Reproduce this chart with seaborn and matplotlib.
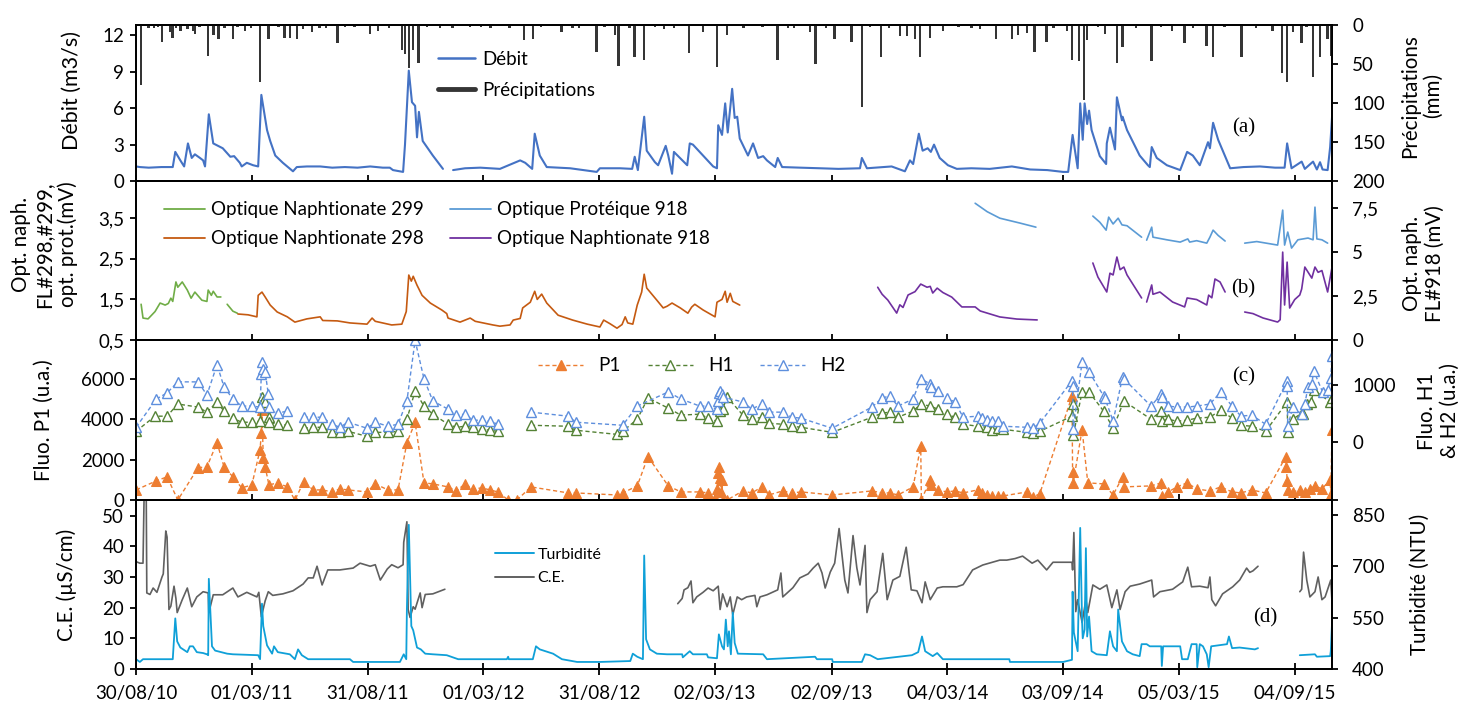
import numpy as np
import pandas as pd
import seaborn as sns
import matplotlib.pyplot as plt
from matplotlib.lines import Line2D

nan = np.nan
DEBUT = pd.Timestamp("2010-08-30")   # jour 0 des séries

# ---------- (a) précipitations (mm) ----------
pluie_jours = [
    8, 20, 41, 54, 58, 70, 81, 90, 93, 114,
    122, 130, 153, 172, 196, 209, 235, 243, 254, 264,
    278, 300, 318, 345, 370, 382, 400, 420, 425, 431,
    438, 446, 480, 528, 560, 613, 627, 672, 700, 728,
    757, 762, 788, 803, 834, 874, 896, 918, 934, 960,
    1014, 1040, 1065, 1074, 1104, 1131, 1147, 1177, 1207, 1218,
    1231, 1239, 1255, 1275, 1334, 1359, 1384, 1394, 1408, 1420,
    1439, 1471, 1479, 1490, 1498, 1503, 1531, 1550, 1559, 1605,
    1637, 1657, 1692, 1702, 1747, 1796, 1811, 1819, 1828, 1842,
    1860, 1871, 1883, 1889,
    28, 35, 63, 100, 140, 160, 182, 225, 290, 330,
    460, 500, 545, 590, 640, 690, 740, 780, 820, 850,
    990, 1030, 1090, 1160, 1190, 1300, 1320, 1450, 1520, 1580,
    1620, 1670, 1720, 1770, 1850]
pluie_mm = [
    77, 4, 22, 10, 17, 8, 6, 8, 12, 40,
    13, 19, 19, 8, 74, 19, 17, 17, 19, 6,
    10, 4, 23, 3, 12, 8, 5, 32, 38, 55,
    32, 49, 5, 3, 4, 20, 19, 9, 4, 35,
    13, 53, 42, 45, 6, 36, 10, 54, 13, 5,
    45, 4, 10, 51, 19, 22, 106, 41, 15, 15,
    19, 41, 17, 8, 6, 19, 19, 14, 11, 35,
    22, 8, 45, 46, 96, 20, 12, 49, 29, 46,
    8, 23, 28, 41, 41, 8, 62, 73, 10, 24,
    67, 41, 19, 40,
    4, 3, 5, 3, 4, 3, 5, 3, 4, 3,
    3, 4, 3, 5, 3, 4, 3, 5, 3, 4,
    3, 5, 4, 3, 4, 3, 5, 4, 3, 4,
    3, 5, 3, 4, 3]

# ---------- (a) débit (m3/s) ----------
debit_jours = [
    0, 6, 20, 40, 58, 62, 70, 76, 82, 88,
    93, 101, 106, 109, 115, 122, 137, 149, 155, 164,
    167, 175, 185, 193, 198, 207, 212, 220, 232, 240,
    248, 254, 270, 291, 310, 330, 350, 370, 390, 401,
    406, 422, 425, 431, 436, 441, 444, 447, 453, 469,
    485, 490, 501, 520, 544, 575, 607, 615, 626, 630,
    638, 649, 686, 728, 733, 765, 784, 788, 793, 803,
    807, 820, 825, 837, 841, 847, 850, 871, 875, 880,
    912, 918, 920, 926, 931, 935, 942, 946, 950, 954,
    967, 975, 983, 991, 997, 1010, 1014, 1021, 1050, 1081,
    1110, 1144, 1147, 1155, 1194, 1215, 1223, 1228, 1237, 1243,
    1251, 1256, 1261, 1270, 1283, 1297, 1320, 1349, 1384, 1413,
    1440, 1465, 1473, 1480, 1488, 1492, 1496, 1499, 1503, 1506,
    1510, 1523, 1533, 1534, 1539, 1547, 1550, 1558, 1559, 1566,
    1586, 1599, 1602, 1605, 1613, 1629, 1650, 1661, 1670, 1681,
    1694, 1697, 1702, 1710, 1729, 1750, 1776, 1800, 1815, 1819,
    1826, 1842, 1847, 1860, 1866, 1871, 1875, 1883, 1887, 1890]
debit = [
    1.2, 1.15, 1.1, 1.15, 1.15, 2.4, 1.7, 1.2, 3.1, 1.9,
    2.2, 1.9, 1.7, 1.2, 5.5, 3.1, 2.7, 2.0, 2.05, 1.5,
    1.2, 1.5, 1.3, 1.2, 7.1, 4.2, 3.3, 2.1, 1.5, 1.15,
    0.8, 1.15, 1.2, 1.2, 1.1, 1.15, 1.1, 1.2, 1.1, 1.1,
    0.9, 0.75, 3.0, 9.1, 6.5, 6.2, 3.6, 5.7, 3.3, 2.1,
    1.0, nan, 0.9, 1.05, 1.1, 1.0, 1.7, 1.5, 1.0, 3.9,
    2.1, 1.15, 1.05, 0.75, 1.05, 1.05, 1.0, 2.0, 0.9, 5.3,
    2.5, 1.55, 1.3, 2.9, 2.1, 0.6, 2.4, 1.3, 3.1, 3.0,
    1.2, 1.05, 4.6, 3.8, 6.4, 4.0, 7.6, 5.2, 5.3, 3.5,
    2.1, 3.1, 1.9, 2.05, 1.7, 1.15, 1.9, 1.15, 1.1, 1.05,
    1.0, 1.05, 1.9, 1.05, 1.2, 0.8, 1.7, 1.4, 3.9, 2.5,
    2.7, 2.4, 3.0, 1.9, 1.3, 1.0, 1.05, 1.0, 1.2, 0.95,
    0.9, 0.75, 0.75, 3.8, 1.05, 6.4, 3.4, 6.4, 4.7, 5.8,
    4.2, 2.05, 1.4, 3.1, 4.4, 2.6, 6.9, 5.0, 5.3, 4.2,
    2.1, 1.3, 1.15, 2.8, 1.9, 1.3, 0.9, 2.4, 2.1, 1.3,
    3.2, 2.7, 4.8, 3.4, 1.05, 1.15, 1.2, 1.1, 1.1, 3.1,
    1.05, 1.6, 1.0, 1.6, 0.95, 1.55, 0.95, 0.9, 2.8, 5.3]

# ---------- (b) fluorimètres optiques (mV) ----------
n299_jours = [8, 11, 19, 30, 38, 46, 51, 55, 58, 63,
              66, 73, 81, 87, 93, 104, 112, 114, 119, 122,
              128, 134, 138, 144, 153, 160]
n299 = [1.38, 1.04, 1.02, 1.2, 1.41, 1.36, 1.4, 1.53, 1.45, 1.93,
        1.8, 1.93, 1.73, 1.53, 1.68, 1.48, 1.45, 1.73, 1.6, 1.7,
        1.56, 1.56, nan, 1.38, 1.21, 1.16]

n298_jours = [161, 177, 191, 193, 199, 204, 212, 223, 239, 251,
              270, 291, 295, 318, 338, 365, 373, 378, 404, 420,
              427, 431, 435, 438, 444, 452, 465, 483, 491, 493,
              512, 528, 536, 564, 575, 591, 596, 607, 611, 623,
              630, 634, 641, 649, 667, 690, 713, 733, 739, 749,
              760, 768, 773, 777, 785, 792, 799, 803, 807, 823,
              833, 839, 847, 860, 872, 878, 883, 896, 915, 918,
              926, 931, 934, 939, 943, 954]
n298 = [1.14, 1.12, 1.07, 1.6, 1.68, 1.56, 1.36, 1.19, 1.07, 0.94,
        1.02, 1.07, 0.98, 0.97, 0.92, 0.89, 1.04, 0.96, 0.87, 0.89,
        1.2, 2.1, 1.95, 2.07, 1.85, 1.6, 1.41, 1.24, 1.15, 1.04,
        0.94, 1.04, 0.96, 0.87, 0.84, 0.87, 0.99, 1.03, 1.29, 1.43,
        1.7, 1.5, 1.63, 1.41, 1.11, 0.99, 0.89, 0.82, 0.99, 0.9,
        0.79, 0.88, 1.07, 0.92, 0.89, 1.36, 1.68, 2.12, 1.78, 1.48,
        1.29, 1.33, 1.41, 1.29, 1.16, 1.31, 1.38, 1.24, 1.07, 1.43,
        1.5, 1.7, 1.43, 1.65, 1.45, 1.36]

p918_jours = [1326, 1345, 1365, 1397, 1422, 1460, 1512, 1523, 1533, 1537,
              1544, 1552, 1558, 1566, 1589, 1593, 1597, 1605, 1607, 1629,
              1650, 1662, 1665, 1676, 1692, 1697, 1702, 1710, 1721, 1735,
              1752, 1771, 1804, 1812, 1815, 1820, 1826, 1836, 1852, 1860,
              1863, 1866, 1874, 1883]
p918 = [7.78, 7.3, 6.93, 6.65, 6.42, nan, 7.05, 6.7, 6.25, 6.99,
        6.6, 6.93, 6.55, 6.5, 5.85, nan, 5.68, 6.42, 5.85, 5.7,
        5.57, 5.75, 5.57, 5.65, 5.51, 5.85, 6.25, 5.95, 5.63, nan,
        5.51, 5.6, 5.4, 7.39, 5.4, 6.14, 5.23, 5.7, 5.8, 5.7,
        7.56, 5.75, 5.7, 5.51]

n918_jours = [1172, 1179, 1188, 1202, 1207, 1212, 1220, 1231, 1240, 1250,
              1255, 1259, 1266, 1275, 1289, 1305, 1326, 1334, 1365, 1392,
              1424, 1460, 1512, 1520, 1534, 1539, 1544, 1550, 1555, 1561,
              1566, 1589, 1593, 1597, 1605, 1607, 1618, 1638, 1657, 1661,
              1676, 1692, 1695, 1700, 1705, 1713, 1721, 1735, 1752, 1765,
              1781, 1804, 1808, 1812, 1815, 1819, 1823, 1831, 1839, 1842,
              1847, 1858, 1863, 1868, 1874, 1883, 1890]
n918 = [3.0, 2.6, 2.27, 1.53, 2.0, 1.85, 2.56, 2.75, 3.18, 3.0,
        3.05, 2.67, 2.95, 2.7, 2.44, 1.88, 1.88, 1.65, 1.31, 1.19,
        1.14, nan, 4.38, 3.58, 2.73, 3.8, 3.7, 4.72, 4.0, 4.15,
        3.7, 2.39, nan, 2.16, 3.13, 2.6, 2.73, 2.16, 1.88, 2.39,
        2.3, 1.99, 2.55, 2.4, 3.47, 3.3, 2.73, nan, 1.59, 1.5,
        1.25, 1.02, 1.15, 5.0, 1.99, 4.43, 1.82, 2.3, 2.56, 2.9,
        4.15, 3.52, 4.15, 3.85, 3.95, 2.73, 4.15]

# ---------- (c) fluorescence (u.a.) ----------
p1_jours = [0, 32, 49, 66, 98, 112, 128, 139, 153, 167,
            183, 196, 198, 199, 201, 204, 210, 224, 239, 251,
            265, 280, 294, 310, 322, 335, 365, 378, 398, 414,
            428, 441, 455, 469, 493, 506, 520, 532, 547, 559,
            572, 588, 602, 624, 683, 695, 760, 769, 792, 809,
            841, 861, 891, 904, 915, 918, 920, 921, 923, 924,
            926, 927, 934, 959, 973, 989, 1000, 1022, 1036, 1051,
            1100, 1163, 1179, 1191, 1204, 1228, 1240, 1241, 1255, 1256,
            1267, 1281, 1294, 1307, 1330, 1337, 1345, 1352, 1362, 1370,
            1408, 1417, 1428, 1479, 1480, 1481, 1495, 1504, 1529, 1544,
            1559, 1561, 1604, 1620, 1621, 1631, 1645, 1661, 1676, 1697,
            1714, 1732, 1746, 1763, 1785, 1817, 1818, 1819, 1820, 1828,
            1839, 1847, 1855, 1863, 1874, 1887, 1888, 1890]
p1 = [500, 950, 1150, 0, 1600, 1650, 2850, 1650, 1150, 600,
      750, 2500, 3350, 4450, 2100, 1650, 750, 850, 650, 0,
      900, 500, 500, 400, 550, 500, 400, 800, 500, 500,
      2850, 3850, 850, 800, 650, 450, 800, 550, 600, 500,
      400, 0, 0, 650, 350, 350, 250, 350, 700, 2150,
      700, 400, 400, 350, 100, 550, 1350, 1650, 1100, 400,
      1000, 0, 0, 450, 350, 650, 250, 450, 350, 400,
      250, 450, 350, 350, 250, 650, 2700, 0, 1000, 750,
      500, 400, 450, 350, 500, 350, 250, 200, 200, 200,
      400, 150, 300, 5150, 1400, 850, 3500, 850, 800, 250,
      1150, 650, 700, 850, 200, 400, 650, 850, 550, 450,
      650, 400, 350, 500, 350, 2150, 1650, 950, 500, 400,
      500, 400, 550, 700, 550, 1000, 300, 3500]

h1_jours = [0, 30, 49, 66, 98, 112, 128, 139, 153, 167,
            183, 196, 199, 201, 204, 210, 210, 224, 239, 245,
            265, 280, 294, 310, 322, 335, 365, 378, 398, 414,
            428, 441, 455, 469, 493, 506, 520, 532, 547, 559,
            572, 600, 624, 683, 695, 760, 769, 792, 809, 841,
            861, 891, 904, 918, 923, 927, 934, 959, 973, 989,
            1000, 1022, 1036, 1051, 1100, 1163, 1179, 1191, 1204, 1228,
            1240, 1255, 1267, 1281, 1294, 1307, 1330, 1345, 1352, 1362,
            1370, 1408, 1417, 1428, 1479, 1480, 1481, 1495, 1506, 1529,
            1544, 1561, 1604, 1620, 1621, 1631, 1645, 1661, 1676, 1697,
            1714, 1732, 1746, 1763, 1785, 1819, 1820, 1828, 1842, 1844,
            1850, 1857, 1861, 1887, 1890]
h1 = [193, 456, 456, 667, 614, 526, 702, 544, 421, 351,
      351, 368, 789, 719, 702, 438, 351, 316, 298, nan,
      246, 263, 263, 175, 175, 193, 105, 175, 175, 193,
      403, 895, 631, 491, 316, 263, 281, 263, 228, 211,
      193, nan, 298, 281, 211, 140, 193, 403, 772, 596,
      474, 491, 421, 368, 544, 579, 789, 474, 403, 438,
      333, 316, 281, 263, 175, 438, 509, 526, 438, 544,
      667, 631, 579, 491, 438, 316, 281, 263, 211, 246,
      228, 175, 158, 193, 456, 667, 123, 877, 877, 544,
      246, 719, 403, 544, 368, 403, 368, 386, 421, 438,
      561, 421, 298, 281, 193, 702, 175, 403, 509, 491,
      667, 702, 912, 702, 772]

h2_jours = [0, 32, 49, 66, 98, 112, 128, 139, 153, 167,
            183, 196, 198, 199, 201, 204, 209, 210, 224, 239,
            245, 265, 280, 294, 310, 322, 335, 365, 378, 398,
            414, 428, 441, 455, 469, 493, 506, 520, 532, 547,
            559, 572, 600, 624, 683, 695, 769, 792, 841, 861,
            891, 904, 918, 920, 921, 923, 926, 927, 959, 973,
            989, 1000, 1022, 1036, 1051, 1100, 1163, 1179, 1191, 1204,
            1228, 1240, 1255, 1256, 1267, 1281, 1294, 1307, 1330, 1337,
            1345, 1352, 1362, 1370, 1408, 1417, 1428, 1479, 1480, 1481,
            1495, 1506, 1529, 1531, 1544, 1559, 1561, 1604, 1620, 1621,
            1631, 1645, 1661, 1676, 1697, 1714, 1732, 1746, 1763, 1785,
            1819, 1819, 1820, 1828, 1842, 1847, 1852, 1858, 1861, 1875,
            1883, 1888, 1890]
h2 = [263, 754, 860, 1052, 1052, 824, 1350, 965, 754, 631,
      631, 614, 1193, 1403, 1280, 1228, 842, 614, 509, 544,
      nan, 438, 438, 438, 316, 263, 351, 246, 351, 281,
      316, 719, 1772, 1105, 719, 579, 474, 491, 386, 386,
      368, 316, nan, 526, 456, 351, 298, 631, 877, 754,
      631, 631, 579, 719, 860, 895, 842, 789, 702, 579,
      667, 526, 526, 438, 421, 246, 614, 772, 807, 631,
      754, 1105, 1017, 965, 895, 772, 702, 438, 456, 421,
      386, 368, 368, 281, 263, 246, 333, 1070, 982, 228,
      1403, 1228, 807, 772, 368, 1140, 1105, 631, 842, 789,
      631, 614, 614, 631, 667, 877, 631, 456, 474, 316,
      1070, 982, 281, 614, 491, 667, 965, 1017, 1245, 877,
      912, 1123, 1508]

# ---------- (d) turbidité et conductivité ----------
turb_jours = [0, 6, 11, 58, 62, 65, 70, 81, 85, 90,
              96, 106, 112, 114, 115, 120, 125, 144, 153, 193,
              196, 199, 201, 207, 215, 218, 224, 243, 251, 256,
              262, 272, 338, 343, 417, 423, 427, 428, 431, 435,
              438, 444, 450, 457, 469, 491, 509, 586, 588, 589,
              627, 632, 638, 659, 673, 697, 733, 781, 785, 792,
              801, 803, 806, 812, 823, 839, 863, 864, 875, 880,
              902, 904, 918, 921, 926, 929, 932, 935, 937, 940,
              943, 946, 951, 991, 997, 1073, 1076, 1100, 1101, 1147,
              1152, 1160, 1172, 1226, 1236, 1242, 1247, 1259, 1266, 1275,
              1380, 1381, 1465, 1479, 1480, 1482, 1488, 1492, 1495, 1496,
              1499, 1501, 1503, 1506, 1510, 1518, 1534, 1539, 1544, 1550,
              1552, 1558, 1566, 1575, 1586, 1589, 1597, 1602, 1620, 1621,
              1623, 1650, 1653, 1662, 1668, 1676, 1677, 1681, 1686, 1692,
              1695, 1699, 1724, 1727, 1732, 1744, 1768, 1773, 1800, 1839,
              1863, 1866, 1887, 1888, 1890]
turb = [3.2, 2.3, 3.2, 3.2, 16.5, 9, 7, 5.5, 7.4, 7.4,
        5.5, 5.2, 4.8, 4.5, 29.4, 7.4, 6, 5, 4.8, 4.5,
        3.2, 21.3, 14, 7.7, 5, 7.4, 5.5, 4.8, 3.2, 6.4,
        4.5, 3.2, 3.2, 2.3, 2.3, 4.8, 3.2, 19.4, 47, 14,
        12.6, 7, 6.4, 5, 4.8, 4.5, 3.2, 3.2, 4.0, 3.2,
        3.2, 7.4, 6.4, 5.0, 3.2, 2.3, 2.3, 2.6, 5, 4.0,
        3.2, 37, 9.7, 6.4, 5, 4.8, 4.8, 3.8, 5.8, 4.8,
        4.8, 3.8, 3.5, 11.3, 7.4, 6.4, 16.1, 7.4, 12.3, 4.8,
        18.4, 8.5, 5, 4.8, 3.2, 4.0, 3.2, 3.2, 2.3, 2.3,
        4.8, 4.5, 3.2, 4.5, 5.5, 10.6, 5.8, 4.2, 5.2, 3.2,
        3.2, 2.3, 2.3, 3.0, 25.2, 11.9, 5.8, 46, 15.2, 10,
        12.9, 39.4, 10.6, 17.1, 5.8, 4.8, 4.5, 12.3, 7.4, 5.8,
        19.4, 9, 5.8, 4.8, 4.2, 8.1, 8.1, 7.4, 7.4, 1.0,
        7.4, 7.4, 3.2, 3.2, 8.1, 8.1, 0.6, 8.1, 7.4, 4.8,
        0.6, 7.4, 8.1, 10.6, 6.8, 7, 6.4, 6.8, nan, 4.5,
        4.8, 4.0, 4.2, 5.8, 15.2]

ce_jours = [0, 6, 11, 13, 16, 17, 22, 27, 33, 41,
            43, 47, 49, 52, 55, 60, 63, 65, 73, 81,
            88, 96, 106, 114, 115, 122, 137, 153, 161, 175,
            191, 194, 198, 204, 209, 216, 232, 248, 264, 272,
            280, 286, 294, 303, 322, 343, 354, 370, 378, 386,
            397, 404, 414, 422, 423, 428, 430, 433, 438, 441,
            449, 452, 457, 469, 488, 500, 856, 863, 866, 872,
            877, 880, 886, 896, 904, 912, 920, 923, 927, 934,
            939, 943, 950, 957, 965, 978, 981, 986, 997, 1014,
            1019, 1022, 1038, 1049, 1062, 1070, 1078, 1084, 1089, 1097,
            1104, 1111, 1120, 1125, 1133, 1139, 1144, 1152, 1155, 1160,
            1171, 1180, 1187, 1196, 1207, 1217, 1225, 1234, 1242, 1247,
            1255, 1266, 1275, 1297, 1307, 1322, 1338, 1365, 1376, 1389,
            1401, 1416, 1425, 1439, 1449, 1465, 1479, 1480, 1482, 1485,
            1488, 1495, 1501, 1504, 1512, 1523, 1534, 1542, 1550, 1555,
            1563, 1571, 1586, 1605, 1608, 1618, 1638, 1654, 1662, 1668,
            1681, 1694, 1697, 1700, 1706, 1717, 1733, 1744, 1755, 1760,
            1765, 1773, 1800, 1839, 1842, 1845, 1850, 1855, 1863, 1868,
            1874, 1879, 1888, 1890]
ce = [35, 34.5, 34.5, 60, 60, 24.8, 24.3, 26.4, 25, 30,
      31, 45, 43, 19.4, 20.5, 27, 23, 18.4, 22.6, 26.4,
      20.3, 23.5, 25.2, 24.8, 18.4, 24.2, 24.2, 26.4, 23.5, 25,
      23.5, 25, 17, 22.2, 25.2, 24, 24.5, 25.5, 27.7, 29.7,
      29.7, 33.5, 27.4, 32.3, 32.3, 32.9, 34.5, 33.5, 34, 29,
      32.6, 34, 33, 34, 41.3, 48, 19.4, 16.8, 20.3, 19.5,
      24.8, 20, 24.3, 24.5, 26, nan, 21.3, 23, 25.8, 26.5,
      28.7, 21.6, 23.5, 25, 26.4, 25.5, 27, 19.4, 24.5, 20.3,
      23.5, 17.7, 23.5, 22.6, 23.5, 24, 20.3, 23.5, 24.2, 25.8,
      31.3, 23.5, 26.5, 29.7, 31, 32.9, 34.5, 31.3, 26.4, 31.6,
      34.5, 45.8, 29, 24.8, 43.5, 33, 27.4, 40.3, 18.4, 22.6,
      25.2, 37.7, 22.6, 29, 30.2, 39.7, 25.8, 25.5, 21.6, 28.4,
      22.6, 26.4, 26.8, 26.8, 27.5, 32.3, 33.9, 35.5, 35.5, 36,
      36.8, 34.5, 35.5, 32.3, 34.8, 34.8, 34.8, 32.3, 44.5, 18.7,
      22.6, 15.2, 22.6, 18.4, 27.4, 26, 27.4, 20, 25.8, 19.4,
      25.2, 27, 27.7, 29, 23.5, 25.2, 26, 28.4, 33.2, 26.8,
      27, 26.5, 30, 22.6, 20.6, 24.5, 26.8, 29, 32.9, 31.5,
      32, 33.5, nan, 25.2, 26, 38.1, 29, 23.5, 25.2, 30,
      22.6, 23.5, 29, 21.6]

dates_ticks = ["2010-08-30", "2011-03-01", "2011-08-31", "2012-03-01", "2012-08-31",
               "2013-03-02", "2013-09-02", "2014-03-04", "2014-09-03", "2015-03-05",
               "2015-09-04"]
labels_ticks = ["30/08/10", "01/03/11", "31/08/11", "01/03/12", "31/08/12", "02/03/13",
                "02/09/13", "04/03/14", "03/09/14", "05/03/15", "04/09/15"]

# couleurs
BLEU_Q = "#4472C4"
GRIS_P = "#353535"
VERT_299 = "#70AD47"
ORANGE_298 = "#C55A11"
BLEU_918 = "#5B9BD5"
VIOLET_918 = "#7030A0"
ORANGE_P1 = "#ED7D31"
VERT_H1 = "#548235"
BLEU_H2 = "#5E8FDD"
BLEU_TURB = "#0FA0D8"
GRIS_CE = "#606060"

sns.set_theme(style="ticks")
plt.rcParams["font.family"] = ["Lato", "DejaVu Sans"]
plt.rcParams.update({"axes.edgecolor": "black", "axes.linewidth": 1.3,
                     "text.color": "black", "axes.labelcolor": "black",
                     "xtick.color": "black", "ytick.color": "black"})
FS = 13.5
FS_LAB = 14.8
SERIF = ["Liberation Serif", "DejaVu Serif"]


def en_dates(jours):
    return DEBUT + pd.to_timedelta(np.asarray(jours), unit="D")


def tracer(ax, jours, valeurs, couleur, **kw):
    # un segment par morceau continu (les nan coupent la ligne)
    df = pd.DataFrame({"date": en_dates(jours), "val": valeurs})
    df["seg"] = df["val"].isna().cumsum()
    df = df.dropna()
    sns.lineplot(data=df, x="date", y="val", units="seg", estimator=None, sort=False,
                 color=couleur, ax=ax, legend=False, **kw)


fig = plt.figure(figsize=(14.74, 7.09), dpi=100)
L, W = 0.0923, 0.8114
ax_a = fig.add_axes([L, 0.7447, W, 0.2207])
ax_b = fig.add_axes([L, 0.5205, W, 0.2243], sharex=ax_a)
ax_c = fig.add_axes([L, 0.2948, W, 0.2257], sharex=ax_a)
ax_d = fig.add_axes([L, 0.0564, W, 0.2384], sharex=ax_a)

# (a)
ax_p = ax_a.twinx()
tracer(ax_a, debit_jours, debit, BLEU_Q, linewidth=1.5)
ax_p.bar(en_dates(pluie_jours), pluie_mm, width=4, color=GRIS_P, linewidth=0)
ax_a.set_ylim(0, 12.9)
ax_a.set_yticks([0, 3, 6, 9, 12])
ax_p.set_ylim(200, 0)
ax_p.set_yticks([0, 50, 100, 150, 200])
ax_a.set_ylabel("Débit (m3/s)", fontsize=15.5)
ax_p.set_ylabel("Précipitations\n(mm)", multialignment="center", fontsize=FS_LAB)
ax_p.legend([Line2D([], [], color=BLEU_Q, lw=1.8), Line2D([], [], color=GRIS_P, lw=3.5)],
            ["Débit", "Précipitations"], loc="upper left", bbox_to_anchor=(0.246, 0.88),
            frameon=False, fontsize=FS, handlelength=2.0, handletextpad=0.35,
            labelspacing=0.75, borderaxespad=0)

# (b)
ax_b2 = ax_b.twinx()
tracer(ax_b, n299_jours, n299, VERT_299, linewidth=1.2)
tracer(ax_b, n298_jours, n298, ORANGE_298, linewidth=1.2)
tracer(ax_b2, p918_jours, p918, BLEU_918, linewidth=1.2)
tracer(ax_b2, n918_jours, n918, VIOLET_918, linewidth=1.2)
ax_b.set_ylim(0.5, 4.42)
ax_b.set_yticks([0.5, 1.5, 2.5, 3.5], labels=["0,5", "1,5", "2,5", "3,5"])
ax_b2.set_ylim(0, 9.05)
ax_b2.set_yticks([0, 2.5, 5, 7.5], labels=["0", "2,5", "5", "7,5"])
ax_b.set_ylabel("Opt. naph.\nFL#298,#299,\nopt. prot.(mV)", multialignment="center",
                fontsize=FS_LAB)
ax_b2.set_ylabel("Opt. naph.\nFL#918 (mV)", multialignment="center", fontsize=FS_LAB)
ax_b2.legend([Line2D([], [], color=c, lw=1.3) for c in (VERT_299, ORANGE_298, BLEU_918, VIOLET_918)],
             ["Optique Naphtionate 299", "Optique Naphtionate 298",
              "Optique Protéique 918", "Optique Naphtionate 918"],
             ncol=2, loc="upper left", bbox_to_anchor=(0.017, 0.92), frameon=False,
             fontsize=FS, handlelength=2.2, handletextpad=0.3, columnspacing=1.4,
             labelspacing=0.65, borderaxespad=0)

# (c)
ax_c2 = ax_c.twinx()
tiret = (0, (3, 2))
tracer(ax_c, p1_jours, p1, ORANGE_P1, linewidth=1.0, linestyle=tiret, marker="^",
       markersize=6.5, markerfacecolor=ORANGE_P1, markeredgecolor=ORANGE_P1)
tracer(ax_c2, h1_jours, h1, VERT_H1, linewidth=1.0, linestyle=tiret, marker="^",
       markersize=6.5, markerfacecolor="white", markeredgecolor=VERT_H1, markeredgewidth=1.0)
tracer(ax_c2, h2_jours, h2, BLEU_H2, linewidth=1.0, linestyle=tiret, marker="^",
       markersize=6.5, markerfacecolor="white", markeredgecolor=BLEU_H2, markeredgewidth=1.0)
ax_c.set_ylim(0, 7950)
ax_c.set_yticks([0, 2000, 4000, 6000])
ax_c2.set_ylim(-1000, 1780)
ax_c2.set_yticks([-1000, 0, 1000], labels=["", "0", "1000"])
ax_c.set_ylabel("Fluo. P1 (u.a.)", fontsize=FS_LAB)
ax_c2.set_ylabel("Fluo. H1\n& H2 (u.a.)", multialignment="center", fontsize=FS_LAB)
h_c = [Line2D([], [], color=ORANGE_P1, lw=1.0, ls=tiret, marker="^", ms=7,
              mfc=ORANGE_P1, mec=ORANGE_P1),
       Line2D([], [], color=VERT_H1, lw=1.0, ls=tiret, marker="^", ms=7,
              mfc="white", mec=VERT_H1),
       Line2D([], [], color=BLEU_H2, lw=1.0, ls=tiret, marker="^", ms=7,
              mfc="white", mec=BLEU_H2)]
ax_c2.legend(h_c, ["P1", "H1", "H2"], ncol=3, loc="upper left", bbox_to_anchor=(0.330, 0.94),
             frameon=False, fontsize=FS, handlelength=2.4, handletextpad=0.8,
             columnspacing=1.45, borderaxespad=0)

# (d)
ax_d2 = ax_d.twinx()
tracer(ax_d, ce_jours, ce, GRIS_CE, linewidth=1.2)
tracer(ax_d, turb_jours, turb, BLEU_TURB, linewidth=1.3)
ax_d.set_ylim(0, 55.1)
ax_d.set_yticks([0, 10, 20, 30, 40, 50])
ax_d2.set_ylim(400, 894)
ax_d2.set_yticks([400, 550, 700, 850])
ax_d.set_ylabel("C.E. (µS/cm)", fontsize=FS_LAB)
ax_d2.set_ylabel("Turbidité (NTU)", fontsize=FS_LAB)
ax_d.legend([Line2D([], [], color=BLEU_TURB, lw=1.4), Line2D([], [], color=GRIS_CE, lw=1.4)],
            ["Turbidité", "C.E."], loc="upper left", bbox_to_anchor=(0.295, 0.757),
            frameon=False, fontsize=11.5, handlelength=2.4, handletextpad=0.25,
            labelspacing=0.6, borderaxespad=0)

# axe des temps commun
ax_d.set_xlim(DEBUT, DEBUT + pd.Timedelta(days=1890))
ax_d.set_xticks(pd.to_datetime(dates_ticks), labels=labels_ticks)
for ax in (ax_a, ax_b, ax_c, ax_d):
    ax.set_xlabel("")
    ax.tick_params(axis="x", direction="inout", length=9, width=1.3, labelsize=FS, pad=7)
    ax.tick_params(axis="y", direction="out", length=4.5, width=1.3, labelsize=FS, pad=4)
for ax in (ax_a, ax_b, ax_c):
    ax.tick_params(axis="x", labelbottom=False)
for ax in (ax_p, ax_b2, ax_c2, ax_d2):
    ax.tick_params(axis="y", direction="out", length=4.5, width=1.3, labelsize=FS, pad=10)

# position des titres d'axes
ax_a.yaxis.set_label_coords(-0.045, 0.58)
ax_b.yaxis.set_label_coords(-0.0485, 0.60)
ax_c.yaxis.set_label_coords(-0.069, 0.50)
ax_d.yaxis.set_label_coords(-0.049, 0.50)
ax_p.yaxis.set_label_coords(1.057, 0.545)
ax_b2.yaxis.set_label_coords(1.0585, 0.48)
ax_c2.yaxis.set_label_coords(1.071, 0.556)
ax_d2.yaxis.set_label_coords(1.065, 0.50)

# lettres des panneaux
for ax, lettre, x, y in ((ax_p, "(a)", 0.926, 0.34), (ax_b2, "(b)", 0.926, 0.32),
                         (ax_c2, "(c)", 0.926, 0.77), (ax_d2, "(d)", 0.944, 0.30)):
    ax.text(x, y, lettre, transform=ax.transAxes, ha="center", va="center",
            fontsize=15, family=SERIF)

fig.savefig("out.png", dpi=100)
